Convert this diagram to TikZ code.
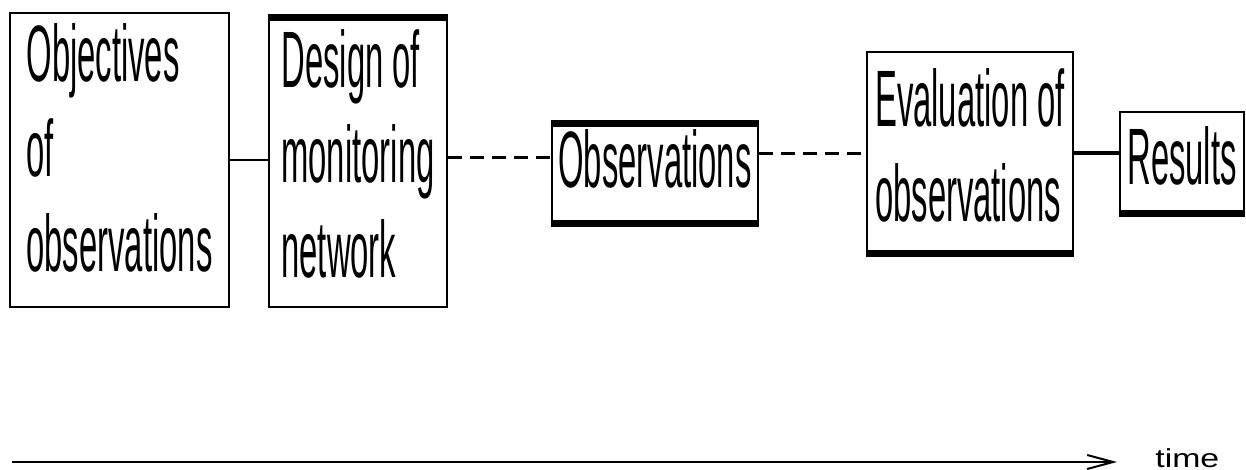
\documentclass[tikz,border=0pt]{standalone}
\usepackage{fontspec}
\setmainfont{Liberation Sans}
\newfontfamily\boxfont[FakeStretch=0.41]{Liberation Sans}
\newfontfamily\axisfont[FakeStretch=1.3]{Liberation Sans}
\usetikzlibrary{arrows.meta}

% depth below the last line, to lift the text in its box
\newcommand{\lift}[1]{\rule[-#1]{0pt}{#1}}

\begin{document}
\begin{tikzpicture}[x=0.5pt,y=-0.5pt,
  stage/.style={draw=black,line width=1.2pt,inner sep=0pt,align=left,
    font=\boxfont\fontsize{40}{47.5}\selectfont},
  bar/.style={line width=3.5pt},
  link/.style={line width=1.2pt},
  later/.style={line width=1.2pt,dash pattern=on 7pt off 4pt}]
  \useasboundingbox (0,0) rectangle (1246,470);

  % stages: objectives and design
  \node[stage,minimum width=109.5pt,minimum height=147pt] (obj) at (119.5,160)
    {Objectives\\of\\observations\lift{12pt}};
  \node[stage,minimum width=89pt,minimum height=145.5pt] (des) at (358,161.5)
    {Design of\\monitoring\\network\lift{7.5pt}};
  \draw[bar] ([yshift=-1.25pt]des.north west) -- ([yshift=-1.25pt]des.north east);

  % stages: observations
  \node[stage,minimum width=103pt,minimum height=51.5pt] (obs) at (655,173.5)
    {Observations\lift{14.5pt}};
  \draw[bar] ([yshift=-1.25pt]obs.north west) -- ([yshift=-1.25pt]obs.north east);
  \draw[bar] ([yshift=1.25pt]obs.south west) -- ([yshift=1.25pt]obs.south east);

  % stages: evaluation and results
  \node[stage,minimum width=103pt,minimum height=101.5pt] (eval) at (970,153.5)
    {Evaluation of\\observations\lift{8pt}};
  \draw[bar] ([yshift=1.25pt]eval.south west) -- ([yshift=1.25pt]eval.south east);

  \node[stage,minimum width=62pt,minimum height=51.5pt] (res) at (1182,163.5)
    {Results\lift{7.5pt}};
  \draw[bar] ([yshift=1.25pt]res.south west) -- ([yshift=1.25pt]res.south east);

  % links between the stages
  \draw[link] (obj.east) -- (obj.east -| des.west);
  \draw[later] ([yshift=2pt]des.east) -- ([yshift=2pt]des.east -| obs.west);
  \draw[later] (obs.east |- eval.west) -- (eval.west);
  \draw[link,line width=2pt] (eval.east) -- (eval.east -| res.west);

  % time axis
  \coordinate (start) at (12,462);
  \coordinate (now) at (1117,462);
  \node[font=\axisfont\fontsize{13}{15}\selectfont,anchor=base west,inner sep=0pt]
    (time) at (1155,467) {time};
  \draw[line width=1pt,-{Straight Barb[length=13pt,width=7pt]}] (start) -- (now);
\end{tikzpicture}
\end{document}
